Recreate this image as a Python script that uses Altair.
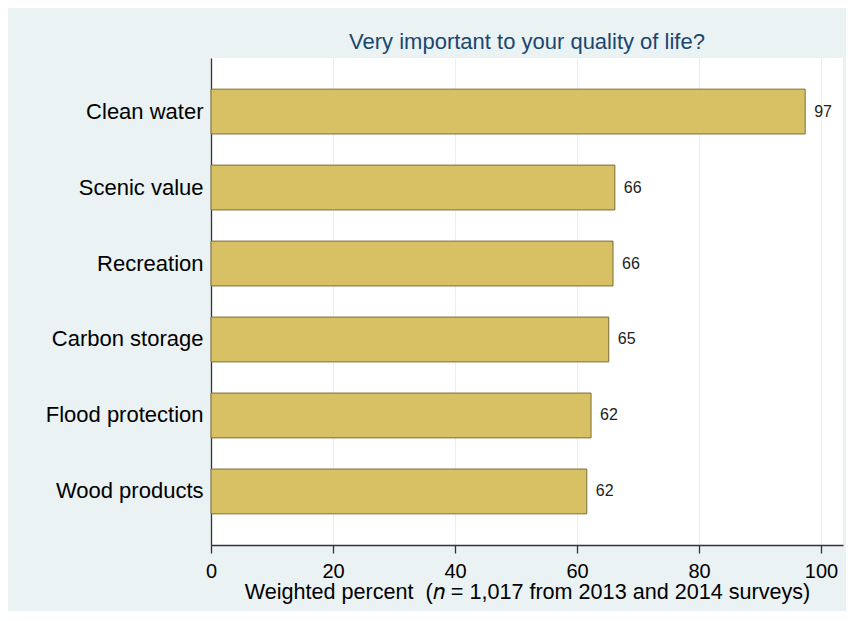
import altair as alt
import pandas as pd

# ---- data ----
categories = ["Clean water", "Scenic value", "Recreation",
              "Carbon storage", "Flood protection", "Wood products"]
values = [97.4, 66.2, 65.9, 65.2, 62.3, 61.6]
value_labels = ["97", "66", "66", "65", "62", "62"]
x_ticks = [0, 20, 40, 60, 80, 100]

df = pd.DataFrame({"item": categories, "pct": values, "label": value_labels})

FONT = "Liberation Sans"

y_enc = alt.Y(
    "item:N", sort=categories, title=None,
    scale=alt.Scale(paddingInner=0.41, paddingOuter=0.41),
    axis=alt.Axis(ticks=False, labelFontSize=22, labelPadding=8,
                  labelColor="#000000", labelFont=FONT, labelLimit=400,
                  domainColor="#333333", domainWidth=1.3, grid=False),
)

x_enc = alt.X(
    "pct:Q",
    scale=alt.Scale(domain=[0, 103.6], nice=False, zero=True),
    title="Weighted percent \u00a0(\U0001D45B = 1,017 from 2013 and 2014 surveys)",
    axis=alt.Axis(values=x_ticks, tickSize=8, tickColor="#333333", tickWidth=1.3,
                  domainColor="#333333", domainWidth=1.3,
                  labelFontSize=20, labelFont=FONT, labelColor="#000000",
                  labelPadding=8, labelFlush=False,
                  grid=True, gridColor="#E8EFF1", gridWidth=1,
                  titleFontSize=21.6, titleFont=FONT, titleFontWeight="normal",
                  titleColor="#000000", titleBaseline="alphabetic", titleY=53),
)

bars = alt.Chart(df).mark_bar(
    color="#D8C165", stroke="#7D6D38", strokeWidth=1
).encode(x=x_enc, y=y_enc)

text = alt.Chart(df).mark_text(
    align="left", baseline="middle", dx=9, fontSize=16, font=FONT, color="#222222"
).encode(x="pct:Q", y=alt.Y("item:N", sort=categories), text="label:N")

chart = (bars + text).properties(
    width=632, height=487,
    title=alt.TitleParams(
        "Very important to your quality of life?",
        fontSize=22, font=FONT, fontWeight="normal", color="#1A476F",
        anchor="middle", baseline="alphabetic", offset=9, dy=22, frame="group"),
    padding={"left": 203, "top": 50, "right": 3, "bottom": 66},
    autosize=alt.AutoSizeParams(type="none"),
    background="#EAF2F3",
).configure_view(fill="white", strokeWidth=0)

chart.save("out.html", embed_options={"renderer": "svg", "actions": False})
